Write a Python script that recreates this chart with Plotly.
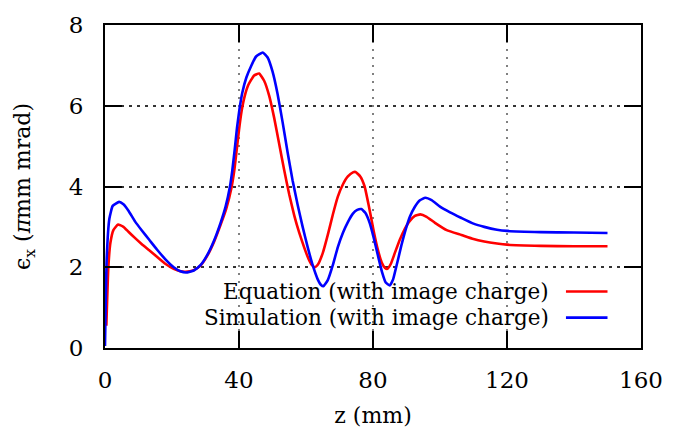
import plotly.graph_objects as go

# Emittance along z: analytic equation vs. simulation (both with image charge)
z_eq = [0.4, 1.0, 1.6, 2.5, 3.9, 5.5, 7, 9, 11, 13.2, 15.5, 18.1, 20.5, 22.5, 24,
        26.5, 28.5, 30.5, 32.5, 34.5, 36.2, 37.7, 38.6, 39.3, 40.0, 40.8, 41.7, 42.8,
        44.5, 46.0, 47.5, 49.0, 50.5, 52.0, 53.5, 55.0, 56.5, 58.0, 59.5, 60.8, 61.8,
        62.6, 63.5, 65, 66.5, 68, 69.5, 71, 72.5, 74, 74.8, 76.2, 77.5, 78.8, 80.2,
        81.4, 82.6, 83.6, 84.3, 85.3, 86.5, 88, 89.5, 91, 92.5, 94.1, 96, 98.5, 102,
        106.4, 110, 113.2, 117, 120, 130, 140, 150]
eps_eq = [0.55, 2.0, 2.6, 2.92, 3.06, 3.0, 2.88, 2.72, 2.57, 2.42, 2.26, 2.08, 1.96, 1.9, 1.89,
          1.93, 2.04, 2.28, 2.62, 3.05, 3.45, 3.95, 4.4, 4.9, 5.4, 5.88, 6.24, 6.52,
          6.75, 6.8, 6.62, 6.25, 5.7, 5.05, 4.4, 3.8, 3.28, 2.85, 2.48, 2.2, 2.05,
          2.0, 2.06, 2.35, 2.8, 3.3, 3.75, 4.05, 4.25, 4.35, 4.36, 4.25, 4.0, 3.5, 2.9,
          2.45, 2.12, 1.98, 1.96, 2.08, 2.35, 2.68, 2.95, 3.15, 3.27, 3.31, 3.25, 3.1, 2.92,
          2.8, 2.7, 2.64, 2.59, 2.56, 2.53, 2.52, 2.52]

z_sim = [0.0, 0.5, 1.3, 2.3, 4.2, 5.5, 7, 9, 11, 13.2, 15.5, 18.1, 20.5, 22.5, 24.2,
         26.5, 28.5, 30.5, 32.5, 34.5, 36.0, 37.3, 38.0, 38.7, 39.4, 40.2, 41.0, 42.2,
         43.6, 45.1, 47.1, 48.5, 50.0, 51.5, 53.0, 54.5, 56.0, 57.5, 59.0, 60.5, 62.0,
         63.5, 64.5, 65.2, 66.5, 68, 69.5, 71, 72.5, 74, 75.3, 76.5, 77.7, 79, 80.3,
         81.5, 82.7, 83.8, 85, 86, 87.2, 88.5, 89.7, 91, 92.5, 94, 95.6, 97.5, 100,
         103, 106.4, 110, 113.2, 117, 120, 130, 140, 150]
eps_sim = [0.05, 2.2, 3.2, 3.52, 3.62, 3.56, 3.4, 3.13, 2.91, 2.68, 2.44, 2.19, 2.0, 1.9, 1.87,
           1.92, 2.05, 2.3, 2.65, 3.1, 3.5, 4.0, 4.4, 4.9, 5.45, 5.95, 6.33, 6.7,
           6.98, 7.22, 7.32, 7.2, 6.85, 6.3, 5.6, 4.85, 4.15, 3.55, 3.0, 2.5, 2.05,
           1.7, 1.56, 1.53, 1.68, 2.05, 2.5, 2.85, 3.12, 3.33, 3.42, 3.44, 3.35, 3.1, 2.7,
           2.28, 1.88, 1.62, 1.55, 1.7, 2.1, 2.55, 2.92, 3.25, 3.5, 3.66, 3.72, 3.66, 3.5,
           3.36, 3.22, 3.08, 3.0, 2.93, 2.9, 2.87, 2.86, 2.85]

x_ticks = [0, 40, 80, 120, 160]
y_ticks = [0, 2, 4, 6, 8]

series = [
    ("Equation (with image charge)", z_eq, eps_eq, "#ff0000"),
    ("Simulation (with image charge)", z_sim, eps_sim, "#0000ff"),
]

FONT = "DejaVu Serif"

fig = go.Figure()
for name, zs, vals, color in series:
    fig.add_trace(go.Scatter(
        x=zs, y=vals, mode="lines", name=name,
        line=dict(color=color, width=2.6, shape="spline", smoothing=0.4),
        showlegend=False,
    ))

# gnuplot-style key: right-aligned text followed by the line sample
key_rows = [(0.175, series[0]), (0.094, series[1])]
for yp, (name, _, _, color) in key_rows:
    fig.add_annotation(xref="paper", yref="paper", x=0.832, y=yp, text=name,
                       showarrow=False, xanchor="right", yanchor="middle",
                       font=dict(family=FONT, size=21.5, color="black"))
    fig.add_shape(type="line", xref="paper", yref="paper", x0=0.860, x1=0.9375,
                  y0=yp, y1=yp, line=dict(color=color, width=2.6))

axis_common = dict(
    ticks="inside", ticklen=17, tickwidth=2, tickcolor="black",
    showline=True, linewidth=2, linecolor="black", mirror="allticks",
    showgrid=True, gridwidth=1.5,
    zeroline=False, tickfont=dict(family=FONT, size=23, color="black"),
)

fig.update_layout(
    width=675, height=436,
    margin=dict(l=105, r=26, t=15, b=88),
    paper_bgcolor="white", plot_bgcolor="white",
    font=dict(family=FONT, color="black"),
    xaxis=dict(range=[0, 160], tickvals=x_ticks, ticklabelstandoff=10,
               gridcolor="#808080", griddash="2px,6px",
               title=dict(text="z (mm)", font=dict(family=FONT, size=22), standoff=16),
               **axis_common),
    yaxis=dict(range=[0, 8], tickvals=y_ticks, ticklabelstandoff=15,
               gridcolor="#333333", griddash="3px,5px",
               title=dict(text="ϵ<sub>x</sub> (<i>π</i>mm mrad)",
                          font=dict(family=FONT, size=22), standoff=32),
               **axis_common),
)

fig.write_html("out.html")
